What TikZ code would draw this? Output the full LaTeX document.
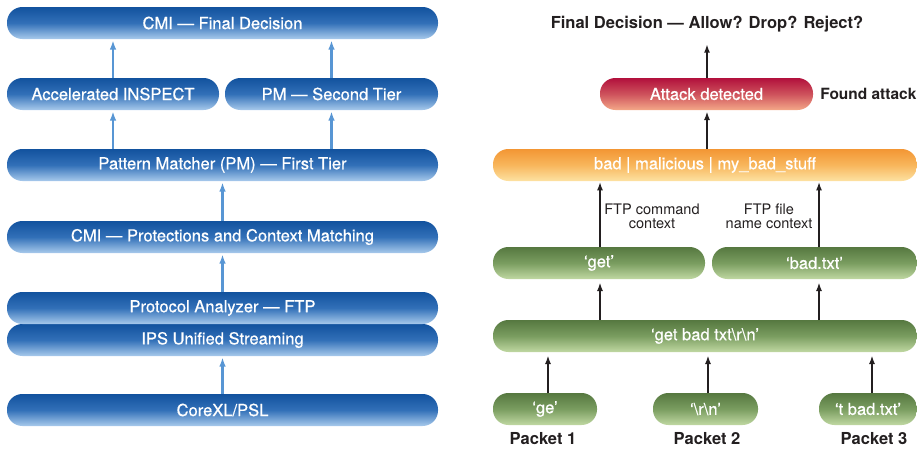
\documentclass[tikz,border=0pt]{standalone}
\usepackage{fontspec}
\setmainfont{TeX Gyre Heros}
\newfontfamily\boxfont[FakeBold=0.6]{TeX Gyre Heros}
\usetikzlibrary{arrows.meta}
\definecolor{bTop}{RGB}{18,82,158}
\definecolor{bMid}{RGB}{50,112,184}
\definecolor{bBot}{RGB}{168,202,236}
\definecolor{gTop}{RGB}{86,120,64}
\definecolor{gMid}{RGB}{122,157,96}
\definecolor{gBot}{RGB}{192,216,162}
\definecolor{oTop}{RGB}{243,150,52}
\definecolor{oMid}{RGB}{248,182,92}
\definecolor{oBot}{RGB}{253,226,162}
\definecolor{rTop}{RGB}{178,16,60}
\definecolor{rMid}{RGB}{206,82,92}
\definecolor{rBot}{RGB}{244,168,136}
\definecolor{arrBlue}{RGB}{88,150,212}
\definecolor{ink}{RGB}{35,31,32}
\begin{document}
\begin{tikzpicture}[x=0.75pt,y=-0.75pt,
  box/.style={rectangle, rounded corners=11.5pt, minimum height=24pt, inner sep=0pt, outer sep=0pt,
    text=white, font=\boxfont\fontsize{12.4}{14}\selectfont},
  bluebox/.style={box, top color=bTop, bottom color=bBot, middle color=bMid},
  greenbox/.style={box, top color=gTop, bottom color=gBot, middle color=gMid},
  orangebox/.style={box, top color=oTop, bottom color=oBot, middle color=oMid},
  redbox/.style={box, top color=rTop, bottom color=rBot, middle color=rMid},
  lbl/.style={text=ink, font=\fontsize{12.4}{14}\selectfont\bfseries, inner sep=0pt},
  smalllbl/.style={text=ink, font=\fontsize{10.9}{10.5}\selectfont, align=center, inner sep=0pt},
  barrow/.style={draw=arrBlue, line width=1.8pt, -{Latex[length=7pt,width=5pt]}, shorten >=1pt},
  karrow/.style={draw=ink, line width=1.6pt, -{Latex[length=6.5pt,width=4.5pt]}, shorten >=2.5pt}
]
\useasboundingbox (0,0) rectangle (917,450);

% ---------- left column ----------
\node[bluebox, minimum width=323.25pt] (cmi)   at (222.5,23)  {CMI — Final Decision};
\node[bluebox, minimum width=159pt]    (acc)   at (113,94)    {Accelerated INSPECT};
\node[bluebox, minimum width=159.75pt] (pm2)   at (331.5,94)  {PM — Second Tier};
\node[bluebox, minimum width=323.25pt] (pm1)   at (222.5,165) {Pattern Matcher (PM) — First Tier};
\node[bluebox, minimum width=323.25pt] (cmip)  at (222.5,237) {CMI — Protections and Context Matching};
\node[bluebox, minimum width=323.25pt] (ips)   at (222.5,340) {IPS Unified Streaming};
\node[bluebox, minimum width=323.25pt] (proto) at (222.5,308) {Protocol Analyzer — FTP};
\node[bluebox, minimum width=323.25pt] (core)  at (222.5,410) {CoreXL/PSL};

\draw[barrow] (acc.north) -- (acc.north |- cmi.south);
\draw[barrow] (pm2.north) -- (pm2.north |- cmi.south);
\draw[barrow] (pm1.north -| acc.south) -- (acc.south);
\draw[barrow] (pm1.north -| pm2.south) -- (pm2.south);
\draw[barrow] (cmip.north) -- (pm1.south);
\draw[barrow] (proto.north) -- (cmip.south);
\draw[barrow] (core.north) -- (ips.south);

% ---------- right column ----------
\node[lbl] (title) at (707,24) {Final Decision — Allow? Drop? Reject?};
\coordinate (tgt) at (707,44);
\node[redbox, minimum width=159.75pt] (attack) at (706.5,94) {Attack detected};
\node[lbl, anchor=west, font=\fontsize{11.6}{14}\selectfont\bfseries] (found) at (820,94) {Found attack};
\node[orangebox, minimum width=318pt] (bad) at (705,165) {bad \textbar{} malicious \textbar{} my\_bad\_stuff};
\node[greenbox, minimum width=159pt] (get) at (599,263) {‘get’};
\node[greenbox, minimum width=153.75pt] (badtxt) at (814.5,263) {‘bad.txt’};
\node[greenbox, minimum width=318pt] (big) at (705,336) {‘get bad txt\textbackslash r\textbackslash n’};
\node[greenbox, minimum width=78pt] (ge) at (545,409) {‘ge’};
\node[greenbox, minimum width=78.75pt] (rn) at (705.5,409) {‘\textbackslash r\textbackslash n’};
\node[greenbox, minimum width=73.5pt] (tbad) at (868,409) {‘t bad.txt’};
\node[lbl] (p1) at (543,439) {Packet 1};
\node[lbl] (p2) at (707,439) {Packet 2};
\node[lbl] (p3) at (874,439) {Packet 3};
\node[smalllbl] (cmdctx) at (652,216) {FTP command\\context};
\node[smalllbl] (filectx) at (769,216) {FTP file\\name context};

\coordinate (xa) at (707,0);
\coordinate (xg) at (600,0);
\coordinate (xb) at (819,0);
\coordinate (x1) at (548,0);
\coordinate (x2) at (708,0);
\coordinate (x3) at (872,0);

\draw[karrow, shorten >=0pt] (xa |- attack.north) -- (tgt);
\draw[karrow, shorten >=1pt] (xa |- bad.north) -- (xa |- attack.south);
\draw[karrow, shorten >=0.5pt] (xg |- get.north) -- (xg |- bad.south);
\draw[karrow, shorten >=0.5pt] (xb |- badtxt.north) -- (xb |- bad.south);
\draw[karrow] (xg |- big.north) -- (xg |- get.south);
\draw[karrow] (xb |- big.north) -- (xb |- badtxt.south);
\draw[karrow] (x1 |- ge.north) -- (x1 |- big.south);
\draw[karrow] (x2 |- rn.north) -- (x2 |- big.south);
\draw[karrow] (x3 |- tbad.north) -- (x3 |- big.south);
\end{tikzpicture}
\end{document}
